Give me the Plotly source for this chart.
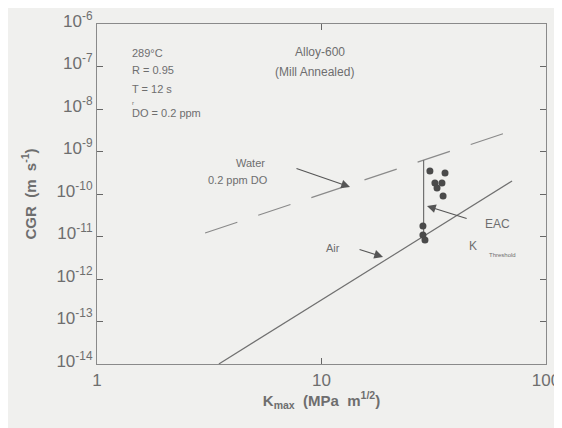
import numpy as np
import plotly.graph_objects as go

# ---- data ----
air_k = [3.49, 70.6]                 # Air line endpoints, K_max (MPa m^1/2)
air_cgr = [1.0e-14, 2.02e-10]        # CGR (m/s)
water_k = [3.03, 69.8]               # Water 0.2 ppm DO line endpoints
water_cgr = [1.21e-11, 3.03e-9]
thr_k = [28.5, 28.5]                 # EAC K_threshold vertical line
thr_cgr = [9.2e-12, 6.3e-10]
pts_k = [30.4, 35.5, 32.0, 34.4, 32.7, 34.8, 28.3, 28.3, 28.9]
pts_cgr = [3.48e-10, 3.12e-10, 1.82e-10, 1.82e-10, 1.38e-10, 8.97e-11, 1.77e-11, 1.08e-11, 8.3e-12]

x_ticks = [1, 10, 100]
x_ticktext = ["1", "10", "100"]
y_ticks = [1e-14, 1e-13, 1e-12, 1e-11, 1e-10, 1e-9, 1e-8, 1e-7, 1e-6]
y_ticktext = ["10<sup>-14</sup>", "10<sup>-13</sup>", "10<sup>-12</sup>", "10<sup>-11</sup>",
              "10<sup>-10</sup>", "10<sup>-9</sup>", "10<sup>-8</sup>", "10<sup>-7</sup>", "10<sup>-6</sup>"]

BG = "#f0f0ee"
INK = "#6e6e6e"
FONT = "Liberation Sans, Arial, sans-serif"

fig = go.Figure()
fig.add_trace(go.Scatter(x=air_k, y=air_cgr, mode="lines",
                         line=dict(color="#707070", width=1.2), showlegend=False))
fig.add_trace(go.Scatter(x=water_k, y=water_cgr, mode="lines",
                         line=dict(color="#8a8a8a", width=1.2, dash="34px,22px"), showlegend=False))
fig.add_trace(go.Scatter(x=thr_k, y=thr_cgr, mode="lines",
                         line=dict(color="#707070", width=1.2), showlegend=False))
fig.add_trace(go.Scatter(x=pts_k, y=pts_cgr, mode="markers",
                         marker=dict(color="#4a4a4a", size=7), showlegend=False))

L = np.log10


def txt(x, y, s, size=11, xanchor="center", color=INK):
    fig.add_annotation(x=L(x), y=L(y), xref="x", yref="y", text=s, showarrow=False,
                       xanchor=xanchor, yanchor="middle",
                       font=dict(family=FONT, size=size, color=color))


def arrow(x0, y0, x1, y1):
    fig.add_annotation(x=L(x1), y=L(y1), ax=L(x0), ay=L(y0), xref="x", yref="y",
                       axref="x", ayref="y", text="", showarrow=True,
                       arrowhead=2, arrowsize=1.6, arrowwidth=1.1, arrowcolor="#555555")


# condition texts
txt(1.40, 2.08e-7, "289°C", xanchor="left")
txt(1.40, 8.28e-8, "R = 0.95", xanchor="left")
txt(1.40, 2.96e-8, "T = 12 s", xanchor="left")
txt(1.45, 1.35e-8, "r", size=6)
txt(1.40, 8.05e-9, "DO = 0.2 ppm", xanchor="left")
txt(9.84, 2.19e-7, "Alloy-600", size=12)
txt(9.35, 7.43e-8, "(Mill Annealed)", size=12)
txt(4.81, 5.36e-10, "Water")
txt(4.25, 2.13e-10, "0.2 ppm DO")
txt(11.25, 5.36e-12, "Air")
txt(60.5, 1.97e-11, "EAC", size=12)
txt(47.3, 5.97e-12, "K", size=12)
txt(64.3, 3.67e-12, "Threshold", size=6)

arrow(7.62, 4.09e-10, 13.4, 1.46e-10)
arrow(14.55, 5.08e-12, 18.8, 3.30e-12)
arrow(45.0, 2.58e-11, 29.5, 5.22e-11)

axis_common = dict(type="log", showgrid=False, zeroline=False, showline=True,
                   automargin=False,
                   linecolor="#8a8a8a", linewidth=1.2, mirror="ticks",
                   ticks="inside", ticklen=6, tickwidth=1.3, tickcolor="#666666",
                   tickfont=dict(family=FONT, size=17, color=INK))

fig.update_xaxes(**axis_common, range=[0, 2], tickvals=x_ticks, ticktext=x_ticktext,
                 title=dict(text="<b>K<sub>max</sub>&nbsp;&nbsp;(MPa&nbsp; m<sup>1/2</sup>)</b>",
                            font=dict(family=FONT, size=15, color=INK), standoff=4))
fig.update_yaxes(**axis_common, range=[-14, -6], tickvals=y_ticks, ticktext=y_ticktext,
                 ticklabelshift=-3,
                 title=dict(text="<b>CGR&nbsp; (m&nbsp; s<sup>-1</sup>)</b>",
                            font=dict(family=FONT, size=15, color=INK), standoff=16))

# the page keeps its default 8px body margin, so the figure is sized to fit the window
fig.update_layout(width=554, height=420, paper_bgcolor=BG, plot_bgcolor=BG,
                  margin=dict(l=89, r=16, t=16, b=64), showlegend=False)

fig.write_html("out.html", config={"displayModeBar": False})
